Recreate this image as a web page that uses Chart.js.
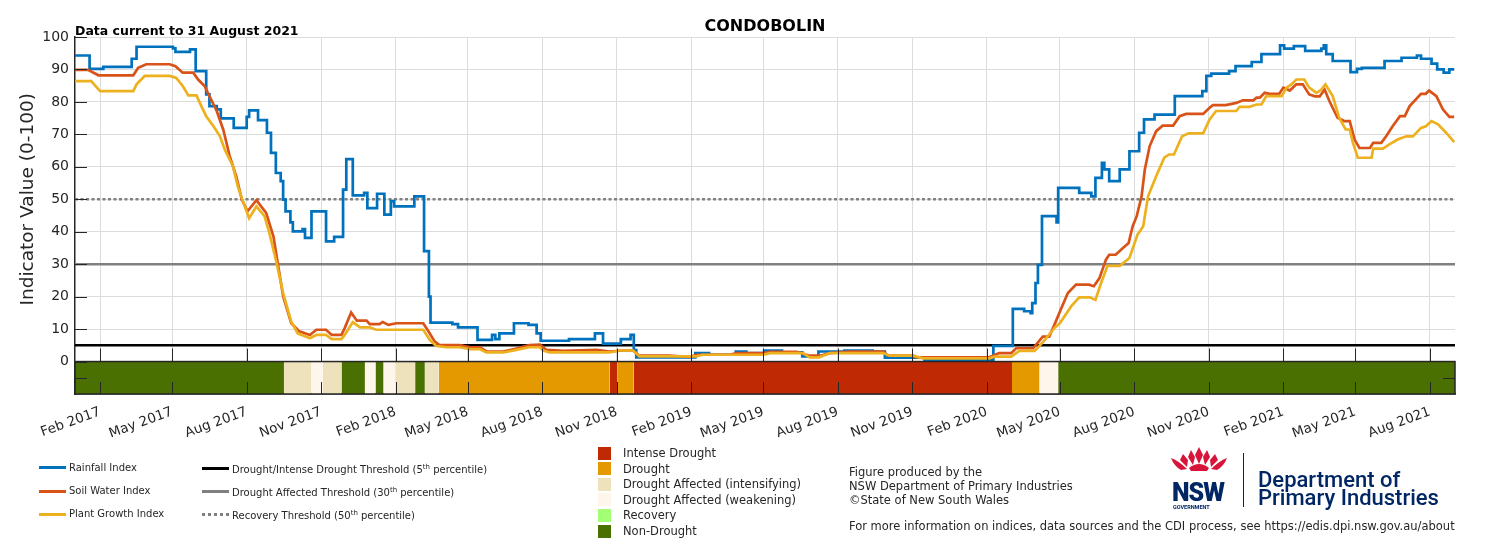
<!DOCTYPE html>
<html>
<head>
<meta charset="utf-8">
<script src="https://cdn.jsdelivr.net/npm/chart.js@4.4.0/dist/chart.umd.min.js"></script>
<style>
  body { margin: 0; background: #fff; font-family: "DejaVu Sans", sans-serif; color: #262626; }
  #wrap { position: relative; width: 1500px; height: 541px; overflow: hidden; }
  canvas { position: absolute; left: 0; top: 0; }
  .sw { position: absolute; height: 3px; width: 27px; }
  .txt { position: absolute; white-space: nowrap; line-height: 12px; }
  .lg { font-size: 10px; }
  .cat { font-size: 11.5px; }
  .box { position: absolute; width: 13px; height: 13px; }
  sup { font-size: 7px; line-height: 0; vertical-align: 4px; }
  .dept { position: absolute; left: 1258px; font-family: Roboto, sans-serif; font-weight: 500; font-size: 22px; color: #002664; white-space: nowrap; line-height: 20px; }
</style>
</head>
<body>
<div id="wrap">
  <canvas id="chart" width="1500" height="541"></canvas>

  <!-- index + threshold legend -->
  <div class="sw" style="left:39px; top:466px; background:#0072BD"></div>
  <div class="txt lg" style="left:69px; top:462px">Rainfall Index</div>
  <div class="sw" style="left:39px; top:490px; background:#D95319"></div>
  <div class="txt lg" style="left:69px; top:485px">Soil Water Index</div>
  <div class="sw" style="left:39px; top:513px; background:#EDB120"></div>
  <div class="txt lg" style="left:69px; top:508px">Plant Growth Index</div>

  <div class="sw" style="left:202px; top:467px; background:#000"></div>
  <div class="txt lg" style="left:232px; top:464px">Drought/Intense Drought Threshold (5<sup>th</sup> percentile)</div>
  <div class="sw" style="left:202px; top:490px; background:#808080"></div>
  <div class="txt lg" style="left:232px; top:487px">Drought Affected Threshold (30<sup>th</sup> percentile)</div>
  <div class="sw" style="left:202px; top:513px; height:0; border-top:3px dotted #808080"></div>
  <div class="txt lg" style="left:232px; top:510px">Recovery Threshold (50<sup>th</sup> percentile)</div>

  <div id="catLegend"></div>

  <div class="txt cat" style="left:849px; top:466px">Figure produced by the</div>
  <div class="txt cat" style="left:849px; top:480px">NSW Department of Primary Industries</div>
  <div class="txt cat" style="left:849px; top:494px">&copy;State of New South Wales</div>
  <div class="txt cat" style="left:849px; top:520px">For more information on indices, data sources and the CDI process, see https://edis.dpi.nsw.gov.au/about</div>

  <svg style="position:absolute; left:1169px; top:447px" width="60" height="25" viewBox="0 0 60 25">
    <g fill="#D7153A">
      <path d="M30 0 L34 8 L30 17 L26 8 Z"/>
      <path d="M22 3 L26 10 L24 18 L19 10 Z"/>
      <path d="M38 3 L41 10 L36 18 L34 10 Z"/>
      <path d="M14 7 L19 13 L18 20 L11 13 Z"/>
      <path d="M46 7 L49 13 L42 20 L41 13 Z"/>
      <path d="M2 11 Q10 14 18 22 L12 23 Q5 19 2 11 Z"/>
      <path d="M58 11 Q50 14 42 22 L48 23 Q55 19 58 11 Z"/>
      <path d="M20 21 Q30 13 40 21 L38 24 L22 24 Z"/>
    </g>
  </svg>
  <div style="position:absolute; left:1172px; top:480px; font-family:Roboto, sans-serif; font-weight:900; font-size:25px; letter-spacing:-1px; color:#002664; line-height:25px">NSW</div>
  <div style="position:absolute; left:1173px; top:504px; font-family:Roboto, sans-serif; font-weight:700; font-size:5.5px; color:#002664; line-height:6px">GOVERNMENT</div>
  <div style="position:absolute; left:1243px; top:453px; width:1px; height:54px; background:#002664"></div>
  <div class="dept" style="top:469.5px">Department of</div>
  <div class="dept" style="top:488px">Primary Industries</div>
</div>

<script>
// x values are days since 1 Jan 2017
const rainfall = [
    [0, 94.3], [18, 90.2], [35, 90.8], [70, 93.3], [76, 97.0], [121, 96.5], [124, 95.4], [142, 96.2],
    [149, 89.5], [162, 82.3], [166, 78.7], [175, 77.7], [180, 74.9], [196, 72.0], [212, 75.4], [215, 77.4],
    [226, 74.4], [237, 70.5], [242, 64.3], [248, 58.1], [254, 55.6], [257, 49.9], [260, 46.3], [266, 42.9],
    [269, 40.1], [281, 40.8], [284, 38.1], [292, 46.3], [310, 37.0], [320, 38.4], [331, 53.0], [335, 62.4],
    [343, 51.2], [357, 52.0], [361, 47.3], [373, 51.7], [382, 45.3], [390, 49.4], [394, 47.8], [419, 50.9],
    [431, 34.0], [437, 20.0], [439, 12.0], [466, 11.5], [473, 10.5], [497, 6.7], [515, 8.2], [519, 6.9],
    [524, 8.7], [542, 11.8], [560, 11.3], [570, 8.7], [575, 6.4], [610, 6.9], [642, 8.7], [652, 5.5],
    [674, 6.9], [686, 8.2], [690, 3.5], [693, 1.3], [766, 2.6], [783, 2.1], [816, 3.1], [829, 2.6],
    [851, 3.4], [873, 2.8], [898, 1.6], [918, 3.1], [950, 3.4], [985, 3.1], [1000, 1.2], [1049, 0.5],
    [1134, 4.8], [1158, 16.2], [1172, 15.5], [1180, 14.9], [1182, 18.0], [1186, 24.2], [1189, 29.8], [1194, 44.8],
    [1212, 42.9], [1214, 53.5], [1240, 52.0], [1255, 50.9], [1260, 56.6], [1268, 61.2], [1271, 59.2], [1277, 55.6],
    [1290, 59.2], [1302, 64.8], [1314, 70.5], [1320, 74.6], [1333, 76.1], [1358, 81.8], [1392, 83.3], [1397, 88.0],
    [1403, 88.7], [1425, 89.5], [1433, 91.0], [1453, 92.3], [1465, 94.7], [1488, 97.4], [1493, 96.4], [1505, 97.2],
    [1519, 95.7], [1539, 96.4], [1542, 97.4], [1545, 94.7], [1553, 92.6], [1575, 89.2], [1583, 90.2], [1589, 90.5],
    [1617, 92.6], [1638, 93.6], [1657, 94.3], [1662, 93.3], [1675, 91.8], [1682, 90.0], [1690, 89.0], [1697, 90.0],
    [1703, 90.0]
];

const soilWater = [
    [0, 89.9], [16, 89.9], [29, 88.2], [72, 88.2], [78, 90.5], [88, 91.6], [117, 91.6], [124, 91.0],
    [133, 89.0], [146, 89.0], [152, 86.9], [160, 84.9], [166, 81.8], [175, 77.2], [183, 71.5], [191, 63.3],
    [199, 57.1], [206, 49.9], [213, 46.3], [224, 49.7], [236, 45.8], [245, 38.6], [251, 29.3], [257, 20.1],
    [267, 11.8], [277, 9.3], [290, 8.2], [298, 9.8], [310, 9.8], [317, 8.2], [329, 8.2], [333, 10.3],
    [341, 15.1], [348, 12.6], [360, 12.6], [364, 11.5], [376, 11.5], [380, 12.2], [387, 11.3], [397, 11.8],
    [430, 11.8], [436, 9.5], [444, 6.2], [450, 5.1], [475, 5.1], [488, 4.4], [500, 4.4], [508, 3.1],
    [529, 3.1], [545, 4.0], [561, 5.1], [574, 5.2], [582, 3.6], [603, 3.3], [644, 3.6], [660, 3.1],
    [677, 3.4], [689, 3.4], [697, 1.8], [734, 1.8], [759, 1.4], [767, 2.1], [808, 2.1], [817, 2.6],
    [850, 2.6], [858, 3.0], [891, 3.0], [907, 1.8], [920, 1.8], [932, 2.6], [957, 3.1], [998, 3.1],
    [1004, 1.8], [1035, 1.8], [1039, 1.3], [1129, 1.3], [1141, 2.6], [1156, 2.6], [1162, 4.1], [1183, 4.1],
    [1195, 7.7], [1203, 7.7], [1211, 12.3], [1218, 16.5], [1226, 21.1], [1236, 23.7], [1252, 23.7], [1258, 23.2],
    [1265, 25.7], [1273, 31.4], [1277, 32.9], [1285, 32.9], [1294, 35.0], [1301, 36.5], [1306, 41.7], [1311, 44.8],
    [1317, 50.9], [1321, 59.2], [1327, 66.4], [1335, 71.0], [1343, 72.7], [1356, 72.7], [1364, 75.6], [1372, 76.3],
    [1393, 76.3], [1401, 78.2], [1405, 79.0], [1421, 79.0], [1434, 79.7], [1442, 80.5], [1455, 80.5], [1459, 81.3],
    [1463, 81.3], [1469, 82.8], [1475, 82.5], [1487, 82.5], [1492, 84.4], [1500, 83.5], [1508, 85.4], [1516, 85.4],
    [1524, 82.3], [1531, 81.7], [1537, 81.7], [1543, 83.8], [1549, 80.2], [1559, 75.1], [1567, 74.1], [1574, 74.1],
    [1580, 68.4], [1586, 65.8], [1599, 65.8], [1603, 67.4], [1613, 67.4], [1619, 69.4], [1627, 72.5], [1636, 75.6],
    [1642, 75.6], [1648, 78.7], [1662, 82.5], [1668, 82.5], [1672, 83.5], [1681, 81.8], [1689, 77.7], [1697, 75.4],
    [1703, 75.4]
];

const plantGrowth = [
    [0, 86.4], [20, 86.4], [31, 83.3], [72, 83.3], [76, 85.4], [86, 88.0], [117, 88.0], [125, 87.4],
    [133, 84.9], [140, 82.0], [150, 82.0], [156, 78.7], [162, 75.6], [171, 72.5], [179, 69.4], [185, 65.3],
    [195, 60.2], [201, 54.0], [208, 48.9], [215, 44.2], [224, 47.8], [234, 44.8], [240, 39.6], [249, 30.3],
    [257, 21.1], [267, 12.3], [275, 8.7], [290, 7.2], [298, 8.2], [310, 8.2], [317, 6.9], [329, 6.9],
    [333, 8.2], [343, 12.1], [352, 10.5], [364, 10.5], [372, 9.8], [430, 9.8], [438, 6.7], [446, 4.8],
    [459, 4.4], [475, 4.4], [488, 3.8], [500, 3.8], [508, 2.8], [529, 2.8], [545, 3.6], [561, 4.4],
    [574, 4.4], [578, 3.4], [586, 2.8], [660, 2.8], [672, 3.4], [689, 3.4], [697, 1.6], [767, 1.6],
    [775, 2.1], [850, 2.1], [858, 2.6], [899, 2.6], [907, 1.3], [919, 1.3], [932, 2.6], [998, 2.6],
    [1006, 1.8], [1035, 1.8], [1047, 1.0], [1129, 1.0], [1135, 1.5], [1156, 1.5], [1166, 3.3], [1185, 3.3],
    [1196, 6.2], [1210, 10.5], [1216, 11.8], [1230, 17.0], [1240, 19.8], [1253, 19.8], [1260, 19.0], [1267, 24.2],
    [1275, 29.5], [1290, 29.5], [1302, 31.9], [1312, 39.1], [1319, 41.7], [1325, 50.9], [1335, 57.1], [1345, 62.8],
    [1351, 63.8], [1357, 63.8], [1367, 69.4], [1375, 70.3], [1393, 70.3], [1401, 74.6], [1409, 77.2], [1434, 77.2],
    [1438, 78.5], [1450, 78.5], [1459, 79.2], [1465, 79.2], [1471, 81.8], [1490, 81.8], [1496, 84.4], [1502, 85.4],
    [1508, 86.9], [1518, 86.9], [1524, 84.4], [1533, 82.8], [1539, 83.8], [1544, 85.4], [1553, 81.8], [1561, 75.1],
    [1569, 71.5], [1574, 71.5], [1578, 67.4], [1584, 62.8], [1601, 62.8], [1603, 65.6], [1615, 65.6], [1623, 66.9],
    [1633, 68.4], [1644, 69.4], [1652, 69.4], [1662, 72.0], [1668, 72.5], [1675, 74.1], [1683, 73.1], [1693, 70.5],
    [1703, 67.6]
];

// 5th, 30th and 50th percentile thresholds
const thresholds = [5, 30, 50];

// drought category strip: boundaries (days) and the category in between
const categoryBreaks = [0, 258, 292, 306, 329, 358, 371, 381, 396, 420, 432, 449, 660, 670, 690, 1157, 1191, 1214, 1704];
const categoryOfSpan = ['non', 'int', 'weak', 'int', 'non', 'weak', 'non', 'weak', 'int', 'non', 'int',
    'drought', 'intense', 'drought', 'intense', 'drought', 'weak', 'non'];

const categoryNames = ['Intense Drought', 'Drought', 'Drought Affected (intensifying)',
    'Drought Affected (weakening)', 'Recovery', 'Non-Drought'];
const categoryKeys = ['intense', 'drought', 'int', 'weak', 'rec', 'non'];

const tickLabels = ['Feb 2017', 'May 2017', 'Aug 2017', 'Nov 2017', 'Feb 2018', 'May 2018', 'Aug 2018',
    'Nov 2018', 'Feb 2019', 'May 2019', 'Aug 2019', 'Nov 2019', 'Feb 2020', 'May 2020', 'Aug 2020',
    'Nov 2020', 'Feb 2021', 'May 2021', 'Aug 2021'];

const categoryColors = {
    intense: '#BF2A04', drought: '#E59900', int: '#EEE2BC', weak: '#FEF6EA', rec: '#A3FF73', non: '#4B7002'
};

const monthNames = ['Jan', 'Feb', 'Mar', 'Apr', 'May', 'Jun', 'Jul', 'Aug', 'Sep', 'Oct', 'Nov', 'Dec'];
const origin = Date.UTC(2017, 0, 1);
const tickDays = tickLabels.map(function (label) {
    let parts = label.split(' ');
    return (Date.UTC(+parts[1], monthNames.indexOf(parts[0]), 1) - origin) / 86400000;
});
const xMax = categoryBreaks[categoryBreaks.length - 1];

// category legend squares
let legendDiv = document.getElementById('catLegend');
categoryNames.forEach(function (name, i) {
    let top = 446.5 + i * 15.6;
    let box = document.createElement('div');
    box.className = 'box';
    box.style.left = '598px';
    box.style.top = top + 'px';
    box.style.background = categoryColors[categoryKeys[i]];
    legendDiv.appendChild(box);
    let t = document.createElement('div');
    t.className = 'txt cat';
    t.style.left = '623px';
    t.style.top = (top + 0.5) + 'px';
    t.textContent = name;
    legendDiv.appendChild(t);
});

function toPoints(series) {
    return series.map(p => ({x: p[0], y: p[1]}));
}

let datasets = [
    {data: toPoints(plantGrowth), borderColor: '#EDB120', borderWidth: 2.7, order: 1},
    {data: toPoints(soilWater), borderColor: '#D95319', borderWidth: 2.7, order: 2},
    {data: toPoints(rainfall), borderColor: '#0072BD', borderWidth: 2.7, stepped: 'before', order: 3}
];

let thresholdStyles = [
    {color: '#000000', dash: []},
    {color: '#808080', dash: []},
    {color: '#808080', dash: [3, 2.5]}
];
thresholds.forEach(function (t, i) {
    datasets.push({
        data: [{x: 0, y: t}, {x: xMax, y: t}],
        borderColor: thresholdStyles[i].color,
        borderDash: thresholdStyles[i].dash,
        borderWidth: 2.6,
        order: 4
    });
});

for (let i = 0; i < categoryOfSpan.length; i++) {
    datasets.push({
        data: [{x: categoryBreaks[i], y: 0}, {x: categoryBreaks[i + 1], y: 0}],
        borderWidth: 0,
        backgroundColor: categoryColors[categoryOfSpan[i]],
        fill: {value: -10},
        order: 10
    });
}

const decor = {
    id: 'decor',
    afterDatasetsDraw(chart) {
        const {ctx, chartArea: a, scales: {x, y}} = chart;
        const y0 = y.getPixelForValue(0);
        ctx.save();
        ctx.strokeStyle = '#262626';
        ctx.lineWidth = 1.5;
        ctx.strokeRect(a.left, y0, a.right - a.left, a.bottom - y0);
        ctx.lineWidth = 1;
        ctx.beginPath();
        x.ticks.forEach(function (t) {
            let px = Math.round(x.getPixelForValue(t.value)) + 0.5;
            ctx.moveTo(px, y0 - 13);
            ctx.lineTo(px, y0);
            ctx.moveTo(px, a.bottom - 12);
            ctx.lineTo(px, a.bottom);
        });
        y.ticks.forEach(function (t) {
            let py = Math.round(y.getPixelForValue(t.value)) + 0.5;
            ctx.moveTo(a.left, py);
            ctx.lineTo(a.left + 12, py);
        });
        let pm = Math.round(y.getPixelForValue(-5)) + 0.5;
        ctx.moveTo(a.left, pm);
        ctx.lineTo(a.left + 12, pm);
        ctx.moveTo(a.right, pm);
        ctx.lineTo(a.right - 12, pm);
        ctx.stroke();
        ctx.restore();
    },
    afterDraw(chart) {
        const {ctx, chartArea: a, scales: {y}} = chart;
        ctx.save();
        ctx.fillStyle = '#000';
        ctx.textBaseline = 'alphabetic';
        ctx.font = 'bold 16px "DejaVu Sans"';
        ctx.textAlign = 'center';
        ctx.fillText('CONDOBOLIN', (a.left + a.right) / 2, 30.5);
        ctx.font = 'bold 12.5px "DejaVu Sans"';
        ctx.textAlign = 'left';
        ctx.fillText('Data current to 31 August 2021', a.left, 34.5);

        ctx.fillStyle = '#262626';
        ctx.font = '18.5px "DejaVu Sans"';
        ctx.textAlign = 'center';
        ctx.textBaseline = 'middle';
        ctx.translate(28, (y.getPixelForValue(0) + y.getPixelForValue(100)) / 2);
        ctx.rotate(-Math.PI / 2);
        ctx.fillText('Indicator Value (0-100)', 0, 0);
        ctx.restore();
    }
};

let ctx = document.getElementById('chart').getContext('2d');
let chart = new Chart(ctx, {
    type: 'line',
    data: {datasets: datasets},
    options: {
        responsive: false,
        animation: false,
        layout: {padding: {top: 37, right: 45, left: 0, bottom: 0}},
        elements: {point: {radius: 0}, line: {tension: 0}},
        plugins: {
            legend: {display: false},
            tooltip: {enabled: false}
        },
        scales: {
            x: {
                type: 'linear',
                min: 0,
                max: xMax,
                afterBuildTicks: function (scale) {
                    scale.ticks = tickDays.map(v => ({value: v}));
                },
                afterFit: function (scale) {
                    scale.height = 147;
                },
                grid: {color: '#DCDCDC', drawTicks: false},
                border: {color: '#262626', width: 1.5},
                ticks: {
                    autoSkip: false,
                    minRotation: 20,
                    maxRotation: 20,
                    padding: 10,
                    color: '#262626',
                    font: {family: 'DejaVu Sans', size: 13.5},
                    callback: function (value, index) {
                        return tickLabels[index];
                    }
                }
            },
            y: {
                min: -10,
                max: 100,
                afterBuildTicks: function (scale) {
                    let t = [];
                    for (let v = 0; v <= 100; v += 10) t.push({value: v});
                    scale.ticks = t;
                },
                afterFit: function (scale) {
                    scale.width = 75;
                },
                grid: {
                    drawTicks: false,
                    color: c => (c.tick && c.tick.value === 0) ? '#262626' : '#DCDCDC'
                },
                border: {color: '#262626', width: 1.5},
                ticks: {
                    padding: 6,
                    color: '#262626',
                    font: {family: 'DejaVu Sans', size: 14}
                }
            }
        }
    },
    plugins: [decor]
});
</script>
</body>
</html>
